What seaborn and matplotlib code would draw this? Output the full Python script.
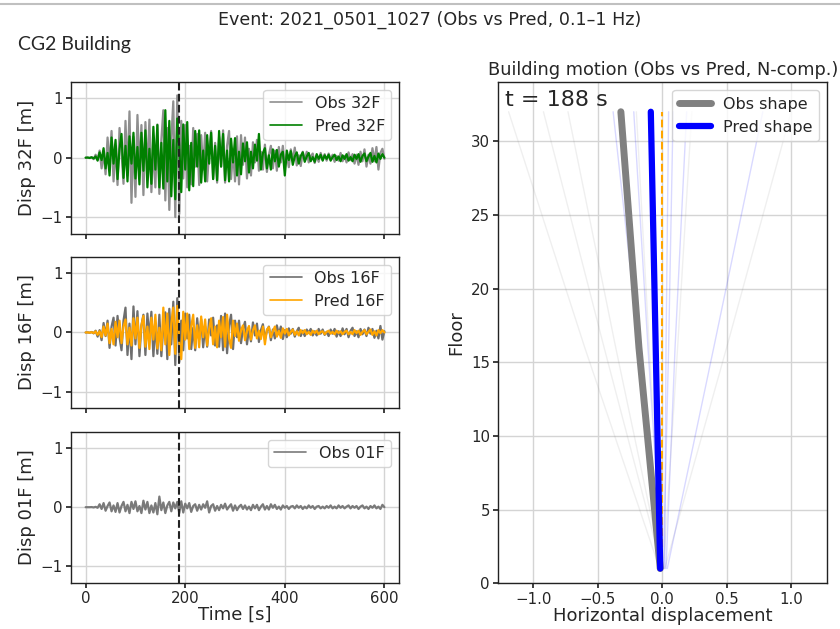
import numpy as np
import pandas as pd
import seaborn as sns
import matplotlib
matplotlib.use("Agg")
import matplotlib.pyplot as plt
from matplotlib.lines import Line2D

# time axis, one sample every 4 s (0 .. 600 s)
time_s = np.arange(0, 601, 4)

# 32F displacement [m]
obs_32f = [
    0.0, 0.003, -0.006, 0.01, -0.025, 0.05, -0.03, 0.12, -0.18, 0.08,
    -0.28, 0.34, -0.12, 0.45, -0.4, 0.2, -0.46, 0.5, 0.1, -0.44,
    0.62, -0.3, 0.78, -0.76, 0.35, -0.66, 0.72, -0.2, 0.55, -0.63,
    0.6, -0.25, 0.64, -0.58, 0.2, -0.5, 0.56, -0.61, 0.3, 0.8,
    -0.72, 0.5, -0.88, 0.3, 0.95, -1.0, 1.05, -0.95, 0.62, -0.35,
    0.55, -0.5, 0.2, -0.45, 0.5, -0.15, 0.4, -0.46, 0.38, -0.2,
    0.42, -0.4, 0.1, 0.45, -0.36, 0.25, -0.42, 0.35, -0.15, 0.46,
    -0.42, 0.2, 0.45, -0.36, 0.1, -0.4, 0.36, -0.45, 0.38, -0.12,
    0.34, -0.35, 0.15, -0.3, 0.26, -0.08, 0.3, -0.22, 0.1, -0.2,
    0.22, -0.24, 0.05, 0.2, -0.18, 0.12, -0.22, 0.18, -0.08, 0.2,
    -0.18, 0.06, -0.16, 0.14, -0.05, 0.17, -0.13, 0.04, -0.14, 0.1,
    -0.04, 0.1, -0.08, 0.02, 0.07, -0.09, 0.03, -0.07, 0.08, -0.03,
    0.06, -0.05, 0.07, -0.02, 0.05, -0.07, 0.03, -0.05, 0.08, -0.06,
    0.03, -0.08, 0.09, -0.04, 0.06, -0.1, 0.05, -0.12, 0.1, -0.06,
    0.14, -0.15, 0.05, -0.1, 0.16, -0.06, 0.18, -0.2, 0.08, 0.15,
    -0.02,
]
pred_32f = [
    0.0, 0.002, -0.004, 0.006, -0.012, 0.02, -0.05, 0.09, -0.04, 0.16,
    -0.18, 0.08, -0.3, 0.34, -0.1, 0.3, -0.36, 0.15, 0.4, -0.34,
    0.2, -0.4, 0.36, -0.1, 0.42, -0.35, 0.18, -0.45, 0.42, -0.22,
    0.46, -0.5, 0.15, -0.44, 0.52, -0.2, 0.55, -0.5, 0.25, -0.52,
    0.8, -0.4, 0.62, -0.65, 0.3, -0.7, 0.66, 0.2, -0.58, 0.56,
    -0.2, 0.6, -0.55, 0.25, -0.48, 0.45, -0.15, 0.46, -0.42, 0.12,
    -0.4, 0.38, -0.1, 0.42, -0.36, 0.2, -0.38, 0.45, -0.15, 0.4,
    -0.38, 0.12, -0.4, 0.32, -0.08, 0.33, -0.3, 0.1, -0.28, 0.24,
    -0.06, 0.26, -0.25, 0.1, -0.18, 0.22, -0.05, 0.4, -0.2, 0.08,
    0.16, -0.18, 0.04, -0.2, 0.14, -0.06, 0.13, -0.15, 0.05, 0.1,
    -0.3, 0.12, -0.04, 0.11, -0.12, 0.02, 0.09, -0.1, 0.03, 0.09,
    -0.07, 0.02, 0.08, -0.06, 0.01, -0.07, 0.06, -0.02, 0.05, -0.05,
    0.04, -0.02, 0.05, -0.05, 0.01, 0.05, -0.04, 0.02, -0.06, 0.04,
    -0.02, 0.06, -0.05, 0.01, -0.06, 0.05, -0.02, 0.06, -0.07, 0.03,
    0.07, -0.06, 0.02, 0.08, -0.07, 0.03, -0.08, 0.07, -0.02, 0.06,
    0.0,
]

# 16F displacement [m]
obs_16f = [
    0.0, 0.002, -0.004, 0.008, -0.015, 0.03, -0.07, 0.04, -0.13, 0.16,
    -0.06, 0.2, -0.26, 0.1, 0.25, -0.22, 0.28, -0.08, -0.3, 0.2,
    0.42, -0.38, 0.15, -0.45, 0.44, -0.2, 0.36, -0.4, 0.12, 0.3,
    -0.38, 0.32, -0.1, 0.35, -0.4, 0.15, -0.36, 0.3, -0.4, 0.1,
    0.34, -0.45, 0.4, -0.2, 0.52, -0.55, 0.58, -0.5, 0.2, -0.3,
    0.32, -0.1, 0.3, -0.28, 0.08, -0.3, 0.24, -0.12, 0.22, -0.25,
    0.1, -0.24, 0.22, -0.05, 0.25, -0.22, 0.12, -0.24, 0.28, -0.3,
    0.32, -0.35, 0.12, 0.3, -0.28, 0.2, -0.08, 0.2, -0.18, 0.06,
    0.18, -0.2, 0.06, -0.15, 0.17, -0.05, 0.15, -0.16, 0.04, 0.14,
    -0.12, 0.03, 0.1, -0.13, 0.05, -0.1, 0.12, -0.03, 0.1, -0.11,
    0.04, -0.08, 0.07, -0.02, 0.06, -0.07, 0.02, 0.08, -0.06, 0.03,
    -0.06, 0.05, -0.01, 0.06, -0.05, 0.02, -0.05, 0.06, -0.02, 0.05,
    -0.04, 0.01, -0.06, 0.05, -0.02, 0.06, -0.07, 0.02, -0.06, 0.07,
    -0.03, 0.06, -0.08, 0.03, 0.08, -0.06, 0.02, -0.08, 0.06, -0.03,
    0.05, -0.06, 0.08, -0.02, 0.06, -0.09, 0.03, -0.1, 0.11, -0.12,
    0.02,
]
pred_16f = [
    0.0, 0.002, -0.004, 0.006, -0.01, 0.02, -0.04, 0.02, -0.08, 0.1,
    -0.05, 0.15, -0.18, 0.06, -0.2, 0.18, -0.08, 0.2, -0.18, 0.1,
    0.22, -0.2, 0.08, -0.22, 0.24, -0.1, 0.25, -0.26, 0.12, 0.28,
    -0.24, 0.1, -0.28, 0.25, -0.12, 0.3, -0.27, 0.08, -0.3, 0.42,
    -0.2, 0.32, -0.38, 0.15, 0.42, -0.36, 0.45, -0.15, -0.45, 0.35,
    -0.12, 0.32, -0.28, 0.1, 0.3, -0.26, 0.12, -0.25, 0.27, -0.08,
    0.22, -0.22, 0.06, 0.24, -0.2, 0.1, -0.25, 0.2, -0.08, 0.26,
    -0.24, 0.3, -0.1, -0.26, 0.2, -0.06, 0.15, -0.14, 0.04, 0.12,
    -0.13, 0.03, 0.11, -0.12, 0.04, 0.12, -0.1, 0.03, -0.11, 0.1,
    -0.2, 0.05, 0.09, -0.08, 0.02, 0.1, -0.07, 0.03, -0.09, 0.07,
    -0.02, 0.06, -0.05, 0.01, 0.05, -0.04, 0.02, -0.05, 0.04, -0.01,
    0.04, -0.03, 0.01, -0.04, 0.03, -0.01, 0.03, -0.03, 0.01, 0.02,
    -0.03, 0.01, 0.03, -0.02, 0.01, -0.03, 0.03, -0.01, 0.02, -0.03,
    0.01, 0.03, -0.03, 0.01, -0.03, 0.04, -0.01, 0.03, -0.04, 0.01,
    0.04, -0.03, 0.01, 0.05, -0.04, 0.02, -0.05, 0.04, -0.01, 0.04,
    0.0,
]

# 01F displacement [m]
obs_01f = [
    0.0, 0.0, 0.0, 0.002, -0.004, 0.006, -0.01, 0.05, -0.03, 0.07,
    -0.06, 0.02, 0.08, -0.07, 0.03, -0.08, 0.07, -0.09, 0.02, 0.09,
    -0.07, 0.04, -0.1, 0.09, -0.03, 0.1, -0.07, 0.02, -0.1, 0.11,
    -0.04, 0.09, -0.1, 0.03, -0.09, 0.07, -0.12, 0.18, -0.05, 0.08,
    -0.1, 0.03, 0.09, -0.07, 0.08, -0.02, 0.09, -0.1, 0.1, -0.09,
    0.06, -0.02, 0.07, -0.08, 0.02, 0.05, -0.06, 0.04, -0.04, 0.05,
    -0.01, 0.1, -0.09, 0.02, 0.05, -0.06, 0.02, -0.05, 0.04, -0.02,
    0.06, -0.04, 0.01, 0.05, -0.06, 0.03, -0.05, 0.01, 0.04, -0.03,
    0.03, -0.04, 0.01, -0.05, 0.04, -0.02, 0.04, -0.05, 0.01, 0.05,
    -0.04, 0.02, -0.04, 0.05, -0.01, 0.04, -0.03, 0.01, -0.04, 0.03,
    -0.01, 0.02, -0.03, 0.01, 0.02, -0.02, 0.03, -0.01, 0.02, -0.03,
    0.01, -0.02, 0.03, -0.01, 0.02, -0.03, 0.01, 0.02, -0.02, 0.01,
    -0.02, 0.02, -0.01, 0.03, -0.02, 0.01, -0.02, 0.03, -0.01, 0.02,
    -0.02, 0.01, 0.03, -0.02, 0.02, -0.01, 0.02, -0.03, 0.01, 0.03,
    -0.02, 0.01, -0.03, 0.02, -0.01, 0.03, -0.02, 0.01, -0.03, 0.04,
    0.0,
]

t_now = 188

# building shape at t_now (floors 01F, 16F, 32F)
floors = [1, 16, 32]
obs_shape = [-0.015, -0.18, -0.32]
pred_shape = [-0.015, -0.05, -0.088]
zero_shape = [0.0, 0.0, 0.0]

# faint trail of earlier shapes
trail_obs = [
    [-0.02, -0.6, -1.19],
    [0.0, -0.45, -0.92],
    [0.0, -0.36, -0.73],
    [0.0, -0.1, -0.2],
    [0.01, 0.12, 0.23],
    [0.02, 0.5, 1.0],
]
trail_pred = [
    [0.0, -0.18, -0.38],
    [0.0, -0.11, -0.22],
    [0.01, 0.05, 0.085],
    [0.03, 0.1, 0.19],
    [0.02, 0.03, 0.05],
    [0.04, 0.4, 0.78],
]

sns.set_theme(style="ticks")
plt.rcParams["font.family"] = ["DejaVu Sans"]
plt.rcParams["axes.edgecolor"] = "#222222"
plt.rcParams["axes.linewidth"] = 1.0

fig = plt.figure(figsize=(8.4, 6.29), dpi=100)

#left column: time histories
ax1 = fig.add_axes([0.0842, 0.6285, 0.3912, 0.2416])
ax2 = fig.add_axes([0.0842, 0.3509, 0.3912, 0.2410], sharex=ax1)
ax3 = fig.add_axes([0.0842, 0.0736, 0.3912, 0.2401], sharex=ax1)

panels = [
    (ax1, obs_32f, pred_32f, "#8f8f8f", "green", "32F"),
    (ax2, obs_16f, pred_16f, "#6e6e6e", "orange", "16F"),
    (ax3, obs_01f, None, "#7a7a7a", None, "01F"),
]
for ax, obs, pred, ocol, pcol, fl in panels:
    sns.lineplot(x=time_s, y=obs, ax=ax, color=ocol, lw=1.6, sort=False,
                 estimator=None, label="Obs " + fl)
    if pred is not None:
        sns.lineplot(x=time_s, y=pred, ax=ax, color=pcol, lw=1.6, sort=False,
                     estimator=None, label="Pred " + fl)
    ax.axvline(t_now, color="#222222", ls="--", lw=1.5)
    ax.set_ylim(-1.28, 1.28)
    ax.set_xlim(-30, 630)
    ax.set_yticks([-1, 0, 1])
    ax.set_xticks([0, 200, 400, 600])
    ax.grid(True, color="#d4d4d4", lw=1)
    ax.set_ylabel("Disp " + fl + " [m]", fontsize=13, labelpad=3)
    ax.tick_params(labelsize=10.8, length=3.5, pad=2.5)
    leg = ax.legend(loc="upper right", fontsize=11.5)
    for h in leg.get_lines():
        h.set_linewidth(1.2)

ax1.tick_params(labelbottom=False)
ax2.tick_params(labelbottom=False)
ax3.set_xlabel("Time [s]", fontsize=13, labelpad=0)

#right: building shape
axr = fig.add_axes([0.5932, 0.0727, 0.3917, 0.7965])
for tr in trail_obs:
    sns.lineplot(x=tr, y=floors, ax=axr, color="gray", lw=1, alpha=0.12,
                 sort=False, estimator=None, orient="y")
for tr in trail_pred:
    sns.lineplot(x=tr, y=floors, ax=axr, color="blue", lw=1, alpha=0.15,
                 sort=False, estimator=None, orient="y")
sns.lineplot(x=zero_shape, y=floors, ax=axr, color="orange", lw=1.5, ls="--",
             sort=False, estimator=None, orient="y")
sns.lineplot(x=obs_shape, y=floors, ax=axr, color="gray", lw=5, sort=False,
             estimator=None, orient="y", label="Obs shape")
sns.lineplot(x=pred_shape, y=floors, ax=axr, color="blue", lw=4.5, sort=False,
             estimator=None, orient="y", label="Pred shape")
axr.set_xlim(-1.27, 1.28)
axr.set_ylim(0, 34)
axr.set_xticks([-1.0, -0.5, 0.0, 0.5, 1.0])
axr.set_yticks([0, 5, 10, 15, 20, 25, 30])
axr.grid(True, color="#d4d4d4", lw=1)
axr.tick_params(labelsize=10.8, length=3.5, pad=2.5)
axr.set_xlabel("Horizontal displacement", fontsize=13, labelpad=0)
axr.set_ylabel("Floor", fontsize=13)
axr.set_title("Building motion (Obs vs Pred, N-comp.)", fontsize=12.8, pad=5)
axr.text(0.02, 0.965, "t = " + str(t_now) + " s", transform=axr.transAxes,
         fontsize=16, ha="left", va="center")
axr.legend(loc="upper right", fontsize=11.5)

fig.suptitle("Event: 2021_0501_1027 (Obs vs Pred, 0.1\u20131 Hz)", x=0.512,
             y=0.968, va="center", fontsize=12.6)
fig.text(0.021, 0.93, "CG2 Building", family="Lato", fontsize=14, va="center")
fig.add_artist(Line2D([0, 1], [1 - 4 / 629] * 2, color="#c0c0c0", lw=1.5))

fig.savefig("out.png", dpi=100)
